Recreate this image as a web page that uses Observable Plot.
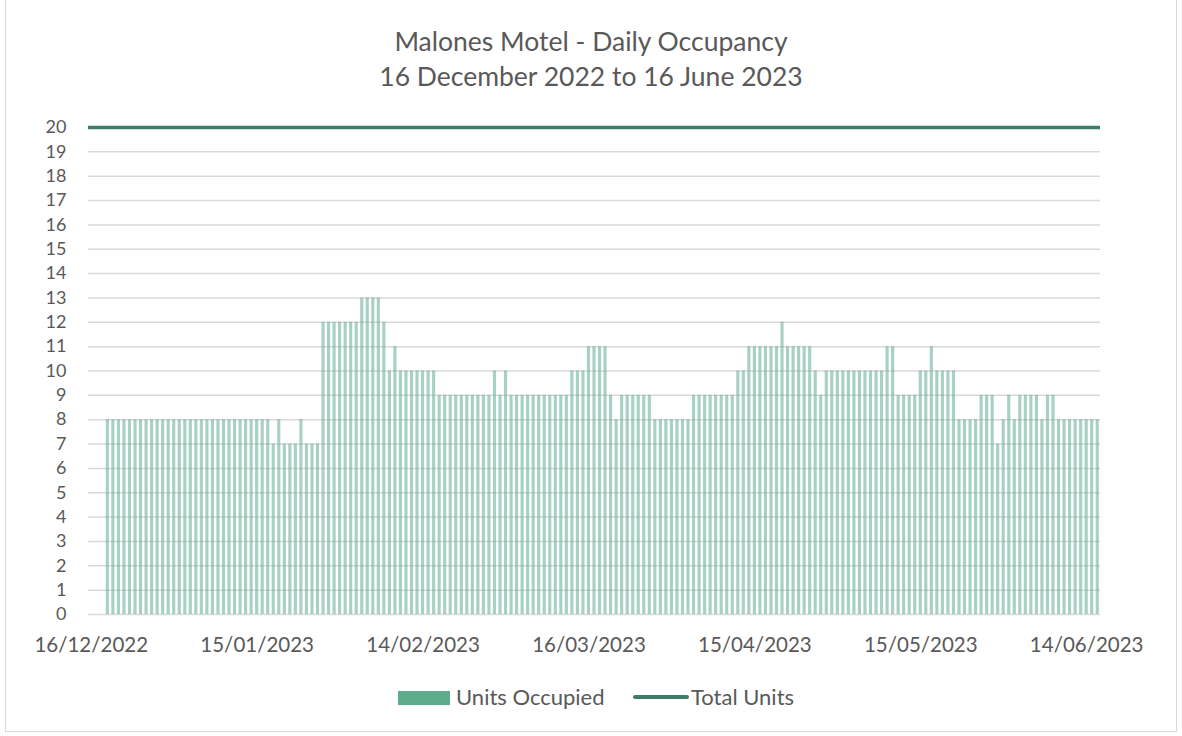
<!DOCTYPE html>
<html>
<head>
<meta charset="utf-8">
<script src="https://cdn.jsdelivr.net/npm/d3@7"></script>
<script src="https://cdn.jsdelivr.net/npm/@observablehq/plot@0.6"></script>
<style>
  body { margin: 0; background: #fff; font-family: Lato, "Liberation Sans", sans-serif; }
  #frame { position: absolute; left: 5px; top: -1px; width: 1172px; height: 733px; border: 1px solid #d9d9d9; box-sizing: border-box; }
  #title { position: absolute; left: 0; top: 24px; width: 1182px; text-align: center; color: #595959; font-size: 26.5px; line-height: 35px; }
  #chart { position: absolute; left: 0; top: 100px; }
  .leg { position: absolute; color: #595959; font-size: 22px; line-height: 22px; }
</style>
</head>
<body>
<div id="frame"></div>
<div id="title"><div>Malones Motel - Daily Occupancy</div><div>16 December 2022 to 16 June 2023</div></div>
<div id="chart"></div>
<div id="legend"></div>
<script>
const startDate = "2022-12-16";
const unitsOccupied = [
  null, null, null,
  8,8,8,8,8,8,8,8,8,8, 8,8,8,8,8,8,8,8,8,8, 8,8,8,8,8,8,8,8,8,8,
  7,8,7,7,7,8,7,7,7,
  12,12,12,12,12,12,12, 13,13,13,13, 12, 10, 11, 10,10,10,10,10,10,10,
  9,9,9,9,9,9,9,9,9,9, 10, 9, 10, 9,9,9,9,9,9,9,9,9,9,9,
  10,10,10, 11,11,11,11, 9, 8, 9,9,9,9,9,9, 8,8,8,8,8,8,8,
  9,9,9,9,9,9,9,9, 10,10, 11,11,11,11,11,11, 12, 11,11,11,11,11, 10, 9,
  10,10,10,10,10,10,10,10,10,10,10, 11,11, 9,9,9,9, 10,10, 11, 10,10,10,10,
  8,8,8,8, 9,9,9, 7, 8, 9, 8, 9,9,9,9, 8, 9,9, 8,8,8,8,8,8,8,8
];
const totalUnits = 20;
const yTicks = d3.range(0, 21);
const tickEvery = 30;
const seriesNames = ["Units Occupied", "Total Units"];

const fmt = d3.utcFormat("%d/%m/%Y");
const start = new Date(startDate + "T00:00:00Z");
const labels = unitsOccupied.map((_, i) => fmt(d3.utcDay.offset(start, i)));
const data = unitsOccupied.map((v, i) => ({label: labels[i], v}));
const xTicks = labels.filter((_, i) => i % tickEvery === 0);

const barColor = "#5fac8c";
const lineColor = "#3d7f66";
const textColor = "#595959";

const chart = Plot.plot({
  width: 1182,
  height: 560,
  marginLeft: 88,
  marginRight: 82,
  marginTop: 27,
  marginBottom: 46,
  style: { fontFamily: "Lato, 'Liberation Sans', sans-serif", color: textColor, background: "transparent" },
  x: { type: "band", domain: labels, padding: 0 },
  y: { domain: [0, 20] },
  marks: [
    Plot.gridY(yTicks, { stroke: "#d9d9d9", strokeOpacity: 1, strokeWidth: 1.5 }),
    Plot.barY(data.filter(d => d.v != null), {
      x: "label", y: "v", fill: barColor, fillOpacity: 0.55, insetLeft: 1.2, insetRight: 1.2
    }),
    Plot.ruleY([totalUnits], { stroke: lineColor, strokeWidth: 3.5 }),
    Plot.axisY(yTicks, { tickSize: 0, tickPadding: 22, fontSize: 18, label: null, color: textColor }),
    Plot.axisX(xTicks, { tickSize: 0, tickPadding: 23, fontSize: 20.5, label: null, color: textColor })
  ]
});
document.getElementById("chart").appendChild(chart);

const legend = document.getElementById("legend");
legend.innerHTML = `
  <div style="position:absolute;left:398px;top:691px;width:52px;height:14px;background:${barColor}"></div>
  <div class="leg" style="left:456px;top:686px">${seriesNames[0]}</div>
  <div style="position:absolute;left:633px;top:695px;width:56px;height:4px;border-radius:2px;background:${lineColor}"></div>
  <div class="leg" style="left:691px;top:686px">${seriesNames[1]}</div>
`;
</script>
</body>
</html>
